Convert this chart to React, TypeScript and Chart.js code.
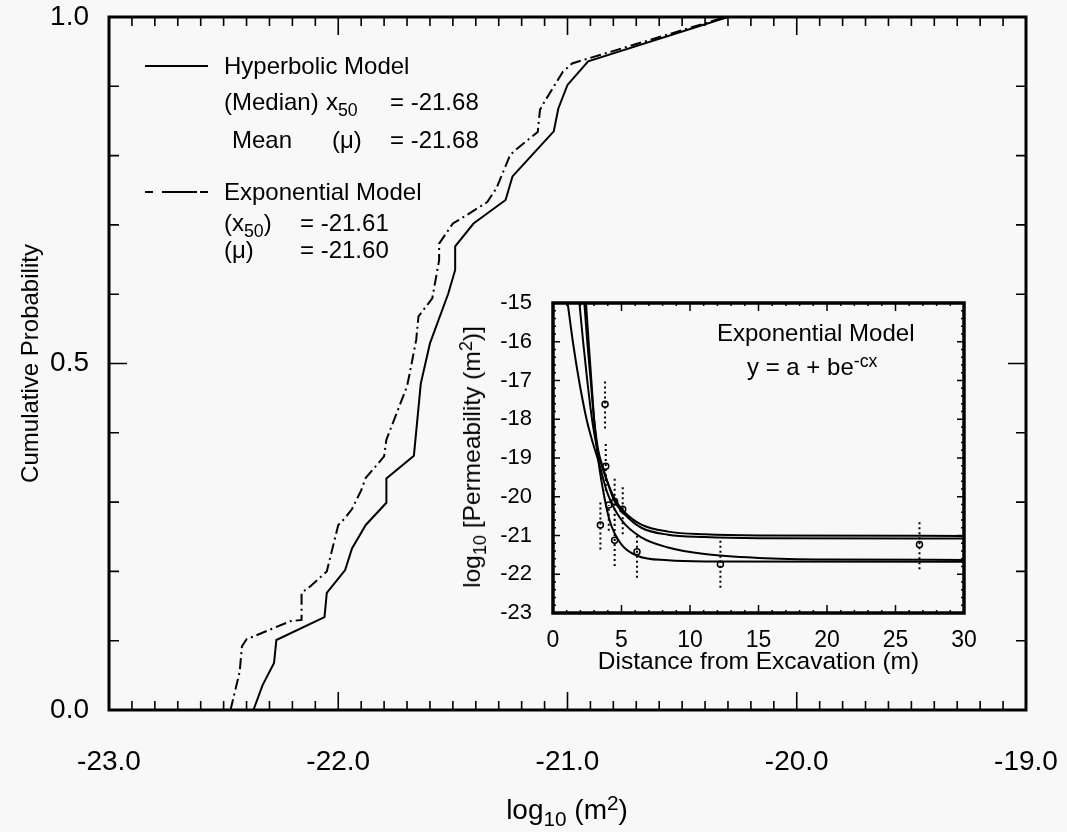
import React, { useEffect, useRef } from "react";
import { Chart, registerables } from "chart.js";
Chart.register(...registerables);

// ---- Main chart: cumulative probability curves ----
const hypX = [-22.37, -22.33, -22.28, -22.27, -22.06, -22.05, -21.97, -21.94, -21.88, -21.79, -21.79, -21.67, -21.64, -21.6, -21.52, -21.49, -21.49, -21.41, -21.27, -21.24, -21.14, -21.06, -21.04, -21.0, -20.91, -20.3];
const hypY = [0, 0.036, 0.068, 0.101, 0.134, 0.169, 0.202, 0.233, 0.267, 0.299, 0.334, 0.367, 0.471, 0.529, 0.601, 0.635, 0.669, 0.702, 0.736, 0.77, 0.806, 0.835, 0.868, 0.902, 0.936, 1.0];
const expX = [-22.47, -22.43, -22.42, -22.4, -22.21, -22.16, -22.16, -22.12, -22.05, -22.0, -21.97, -21.94, -21.9, -21.88, -21.82, -21.8, -21.79, -21.7, -21.69, -21.66, -21.65, -21.59, -21.56, -21.56, -21.5, -21.45, -21.35, -21.31, -21.25, -21.22, -21.13, -21.12, -21.1, -21.02, -20.98, -20.31];
const expY = [0, 0.055, 0.092, 0.102, 0.128, 0.13, 0.169, 0.179, 0.2, 0.267, 0.277, 0.29, 0.317, 0.335, 0.358, 0.366, 0.39, 0.467, 0.483, 0.534, 0.568, 0.594, 0.649, 0.673, 0.702, 0.712, 0.733, 0.753, 0.801, 0.81, 0.834, 0.866, 0.878, 0.921, 0.933, 1.0];
const mainXTicks = [-23, -22, -21, -20, -19];
const mainYTicks = [0, 0.5, 1];

// ---- Inset: permeability vs distance ----
const obsDist = [3.46, 3.8, 3.85, 4.07, 4.5, 4.5, 5.09, 6.13, 12.22, 26.75];
const obsLogK = [-20.73, -17.61, -19.21, -20.21, -20.12, -21.12, -20.32, -21.42, -21.74, -21.23];
const obsLow = [-21.36, -18.24, -19.85, -20.88, -20.75, -21.79, -20.97, -22.09, -22.35, -21.87];
const obsHigh = [-20.1, -16.99, -18.58, -20.21, -19.5, -20.45, -19.71, -20.97, -21.1, -20.62];

const fitU1Dist = [1.93, 2.2, 2.5, 2.85, 3.25, 3.65, 4.5, 5.23, 6.45, 8.4, 11.07, 15, 30];
const fitU1LogK = [-15, -16.0, -17.0, -18.0, -18.8, -19.3, -20.05, -20.4, -20.72, -20.9, -20.97, -21.0, -21.01];
const fitU2Dist = [2.29, 2.5, 2.75, 3.0, 3.3, 3.65, 4.5, 5.23, 6.45, 8.4, 11.07, 15, 30];
const fitU2LogK = [-15, -16.0, -17.0, -18.0, -18.8, -19.25, -20.12, -20.45, -20.8, -20.98, -21.04, -21.07, -21.08];
const fitL1Dist = [2.41, 2.6, 2.8, 3.0, 3.25, 3.53, 4.14, 4.99, 6.2, 8.4, 11.07, 30];
const fitL1LogK = [-15, -16.0, -17.0, -18.0, -18.9, -19.58, -20.62, -21.23, -21.53, -21.64, -21.67, -21.68];
const fitL2Dist = [1.07, 1.45, 1.9, 2.45, 2.9, 3.3, 4.0, 5.0, 6.45, 8.4, 11.07, 15, 20, 30];
const fitL2LogK = [-15, -16.0, -17.0, -18.0, -18.6, -19.06, -19.93, -20.6, -21.05, -21.31, -21.48, -21.58, -21.62, -21.63];

const FONT = "'Liberation Sans', Arial, sans-serif";
const BG = "#f8f8f8";

const zip = (xs: number[], ys: number[]) => xs.map((x, i) => ({ x, y: ys[i] }));

const noPad = (s: any) => {
  s.paddingLeft = 0;
  s.paddingRight = 0;
  s.paddingTop = 0;
  s.paddingBottom = 0;
};

const boxTicks = {
  id: "boxTicks",
  afterDatasetsDraw(chart: any, _args: any, opts: any) {
    const { ctx, chartArea: a, scales } = chart;
    const xs = scales.x, ys = scales.y;
    const vals = (min: number, max: number, step: number) => {
      const out: number[] = [];
      const n = Math.round((max - min) / step);
      for (let i = 0; i <= n; i++) out.push(min + i * step);
      return out;
    };
    const isMul = (v: number, m: number) => Math.abs(v / m - Math.round(v / m)) < 1e-6;
    ctx.save();
    ctx.strokeStyle = "#000";
    ctx.lineWidth = opts.tickWidth;
    ctx.beginPath();
    for (const v of vals(xs.min, xs.max, opts.xMinor)) {
      const p = xs.getPixelForValue(v);
      const len = isMul(v, opts.xMajor) ? opts.xMajorLen : opts.xMinorLen;
      ctx.moveTo(p, a.bottom); ctx.lineTo(p, a.bottom - len);
      ctx.moveTo(p, a.top); ctx.lineTo(p, a.top + len);
    }
    for (const v of vals(ys.min, ys.max, opts.yMinor)) {
      const p = ys.getPixelForValue(v);
      const len = isMul(v, opts.yMajor) ? opts.yMajorLen : opts.yMinorLen;
      ctx.moveTo(a.left, p); ctx.lineTo(a.left + len, p);
      ctx.moveTo(a.right, p); ctx.lineTo(a.right - len, p);
    }
    ctx.stroke();
    ctx.lineWidth = opts.borderWidth;
    ctx.strokeRect(a.left, a.top, a.right - a.left, a.bottom - a.top);
    ctx.restore();
  },
};

const legendSamples = {
  id: "legendSamples",
  afterDraw(chart: any) {
    const ctx = chart.ctx;
    ctx.save();
    ctx.strokeStyle = "#000";
    ctx.lineWidth = 2;
    ctx.beginPath();
    ctx.moveTo(145, 66); ctx.lineTo(208, 66);
    ctx.moveTo(145, 192); ctx.lineTo(153, 192);
    ctx.moveTo(162, 192); ctx.lineTo(197, 192);
    ctx.moveTo(200, 192); ctx.lineTo(208, 192);
    ctx.stroke();
    ctx.restore();
  },
};

const T = (props: { x: number; y: number; size?: number; children: React.ReactNode }) => (
  <div
    style={{
      position: "absolute",
      left: props.x,
      top: props.y - (props.size ?? 24) / 2,
      fontSize: props.size ?? 24,
      lineHeight: `${props.size ?? 24}px`,
      whiteSpace: "nowrap",
    }}
  >
    {props.children}
  </div>
);

const Sub = ({ children }: { children: React.ReactNode }) => (
  <span style={{ fontSize: "0.74em", position: "relative", top: "0.35em" }}>{children}</span>
);
const Sup = ({ children }: { children: React.ReactNode }) => (
  <span style={{ fontSize: "0.74em", position: "relative", top: "-0.45em" }}>{children}</span>
);

export default function App() {
  const mainRef = useRef<HTMLCanvasElement>(null);
  const insetRef = useRef<HTMLCanvasElement>(null);

  useEffect(() => {
    const main = new Chart(mainRef.current!, {
      type: "line",
      data: {
        datasets: [
          {
            label: "Hyperbolic Model",
            data: zip(hypX, hypY),
            borderColor: "#000",
            borderWidth: 2,
            pointRadius: 0,
            tension: 0,
          },
          {
            label: "Exponential Model",
            data: zip(expX, expY),
            borderColor: "#000",
            borderWidth: 2,
            borderDash: [11, 4, 2, 4],
            pointRadius: 0,
            tension: 0,
          },
        ],
      },
      options: {
        responsive: false,
        animation: false,
        devicePixelRatio: 1,
        layout: { padding: { left: 0, top: 17, right: 41, bottom: 0 } },
        plugins: {
          legend: { display: false },
          tooltip: { enabled: false },
          boxTicks: {
            xMinor: 0.1, xMajor: 1, xMinorLen: 9, xMajorLen: 18,
            yMinor: 0.1, yMajor: 0.5, yMinorLen: 10, yMajorLen: 18,
            tickWidth: 1.6, borderWidth: 3,
          },
        } as any,
        scales: {
          x: {
            type: "linear",
            min: -23,
            max: -19,
            grid: { display: false },
            border: { display: false },
            afterBuildTicks: (s: any) => { s.ticks = mainXTicks.map((v) => ({ value: v })); },
            ticks: { color: "#000", font: { family: FONT, size: 28 }, padding: 27, callback: (v: any) => Number(v).toFixed(1) },
            afterFit: (s: any) => { s.height = 122; noPad(s); },
          },
          y: {
            type: "linear",
            min: 0,
            max: 1,
            grid: { display: false },
            border: { display: false },
            afterBuildTicks: (s: any) => { s.ticks = mainYTicks.map((v) => ({ value: v })); },
            ticks: { color: "#000", font: { family: FONT, size: 28 }, padding: 12, callback: (v: any) => Number(v).toFixed(1) },
            title: { display: true, text: "Cumulative Probability", color: "#000", font: { family: FONT, size: 24 }, padding: { top: 17, bottom: 0 } },
            afterFit: (s: any) => { s.width = 109; noPad(s); },
          },
        },
      },
      plugins: [boxTicks, legendSamples],
    });

    const errData: any[] = [];
    obsDist.forEach((d, i) => {
      errData.push({ x: d, y: obsLow[i] }, { x: d, y: obsHigh[i] }, { x: d, y: null });
    });
    const fitStyle = { borderColor: "#000", borderWidth: 2, pointRadius: 0, cubicInterpolationMode: "monotone" as const, type: "line" as const };

    const inset = new Chart(insetRef.current!, {
      type: "line",
      data: {
        datasets: [
          { label: "range", data: errData, borderColor: "#000", borderWidth: 2, borderDash: [2, 3], pointRadius: 0, spanGaps: false, tension: 0 },
          { label: "fit1", data: zip(fitU1Dist, fitU1LogK), ...fitStyle },
          { label: "fit2", data: zip(fitU2Dist, fitU2LogK), ...fitStyle },
          { label: "fit3", data: zip(fitL1Dist, fitL1LogK), ...fitStyle },
          { label: "fit4", data: zip(fitL2Dist, fitL2LogK), ...fitStyle },
          {
            label: "obs",
            data: zip(obsDist, obsLogK),
            showLine: false,
            pointRadius: 3,
            pointBorderWidth: 1.5,
            pointBorderColor: "#000",
            pointBackgroundColor: BG,
          },
        ],
      },
      options: {
        responsive: false,
        animation: false,
        devicePixelRatio: 1,
        layout: { padding: { left: 0, top: 23, right: 36, bottom: 0 } },
        plugins: {
          legend: { display: false },
          tooltip: { enabled: false },
          boxTicks: {
            xMinor: 1, xMajor: 5, xMinorLen: 3, xMajorLen: 8,
            yMinor: 0.2, yMajor: 1, yMinorLen: 3, yMajorLen: 7,
            tickWidth: 1.5, borderWidth: 3.5,
          },
        } as any,
        scales: {
          x: {
            type: "linear",
            min: 0,
            max: 30,
            grid: { display: false },
            border: { display: false },
            ticks: { stepSize: 5, color: "#000", font: { family: FONT, size: 23 }, padding: 6 },
            title: { display: true, text: "Distance from Excavation (m)", color: "#000", font: { family: FONT, size: 24.5 }, padding: { top: 0, bottom: 23 } },
            afterFit: (s: any) => { s.height = 87; noPad(s); },
          },
          y: {
            type: "linear",
            min: -23,
            max: -15,
            grid: { display: false },
            border: { display: false },
            ticks: { stepSize: 1, color: "#000", font: { family: FONT, size: 22 }, padding: 13 },
            afterFit: (s: any) => { s.width = 113; noPad(s); },
          },
        },
      },
      plugins: [boxTicks],
    });

    return () => {
      main.destroy();
      inset.destroy();
    };
  }, []);

  return (
    <div
      style={{
        position: "absolute",
        left: 0,
        top: 0,
        width: 1067,
        height: 832,
        background: BG,
        fontFamily: FONT,
        color: "#000",
        overflow: "hidden",
      }}
    >
      <canvas ref={mainRef} width={1067} height={832} style={{ position: "absolute", left: 0, top: 0, width: 1067, height: 832 }} />
      <canvas ref={insetRef} width={560} height={420} style={{ position: "absolute", left: 440, top: 280, width: 560, height: 420 }} />

      <T x={224} y={66}>Hyperbolic Model</T>
      <T x={224} y={102}>(Median)</T>
      <T x={326} y={102}>x<Sub>50</Sub></T>
      <T x={390} y={102}>= -21.68</T>
      <T x={232} y={140}>Mean</T>
      <T x={332} y={140}>(μ)</T>
      <T x={390} y={140}>= -21.68</T>
      <T x={224} y={192}>Exponential Model</T>
      <T x={224} y={223}>(x<Sub>50</Sub>)</T>
      <T x={300} y={223}>= -21.61</T>
      <T x={224} y={250}>(μ)</T>
      <T x={300} y={250}>= -21.60</T>

      <T x={717} y={333}>Exponential Model</T>
      <T x={747} y={367}>y = a + be<Sup>-cx</Sup></T>

      <div
        style={{
          position: "absolute",
          left: 567,
          top: 810,
          transform: "translate(-50%, -50%)",
          fontSize: 28,
          whiteSpace: "nowrap",
        }}
      >
        log<Sub>10</Sub> (m<Sup>2</Sup>)
      </div>
      <div
        style={{
          position: "absolute",
          left: 472,
          top: 457,
          transform: "translate(-50%, -50%) rotate(-90deg)",
          fontSize: 24.5,
          whiteSpace: "nowrap",
        }}
      >
        log<Sub>10</Sub> [Permeability (m<Sup>2</Sup>)]
      </div>
    </div>
  );
}
